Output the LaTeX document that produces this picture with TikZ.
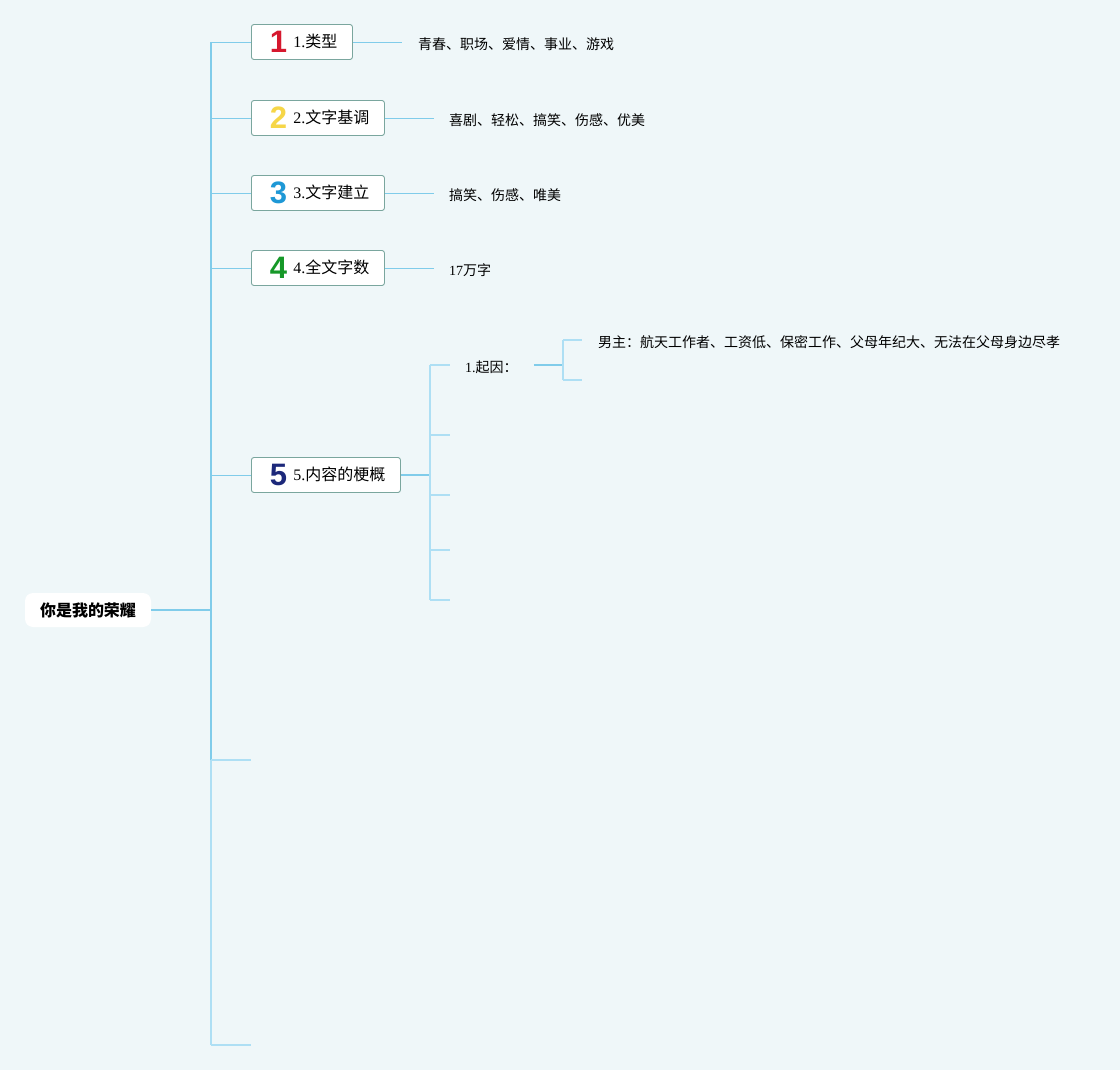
\documentclass[tikz,border=0pt]{standalone}
\usepackage{fontspec}
\setmainfont{Liberation Serif}
\newfontfamily\cjk{Noto Sans CJK SC}
\newfontfamily\numfnt{Liberation Sans}
\usetikzlibrary{positioning}
\definecolor{bgc}{RGB}{239,247,249}
\definecolor{lnk}{RGB}{128,204,234}
\definecolor{lnkl}{RGB}{174,223,244}
\definecolor{bdr}{RGB}{122,166,158}
\definecolor{nred}{RGB}{214,24,46}
\definecolor{nyel}{RGB}{246,214,72}
\definecolor{nblu}{RGB}{30,152,214}
\definecolor{ngrn}{RGB}{22,152,40}
\definecolor{nnav}{RGB}{28,40,122}
\tikzstyle{root}=[fill=white,rounded corners=8pt,minimum width=126pt,minimum height=34pt,inner sep=0pt,font=\cjk\bfseries\fontsize{16}{19}\selectfont]
\tikzstyle{topic}=[draw=bdr,fill=white,rounded corners=2.5pt,minimum height=35pt,inner xsep=0pt,inner ysep=0pt,align=left,anchor=west,line width=0.9pt]
\tikzstyle{dtl}=[anchor=west,inner xsep=0pt,font=\fontsize{14}{17}\selectfont]
\tikzstyle{lk}=[draw=lnk,line width=0.9pt]
\tikzstyle{lkl}=[draw=lnkl,line width=1.2pt]
\newcommand{\numicon}[2]{\hspace*{18pt}\makebox[18pt][c]{\raisebox{-5.5pt}{\textcolor{#1}{\numfnt\bfseries\fontsize{31}{31}\selectfont #2}}}\hspace{6pt}}

\begin{document}
\begin{tikzpicture}[x=1pt,y=-1pt]
\fill[bgc] (0,0) rectangle (1120,1070);
% root and main spine
\node[root] (root) at (88,610) {你是我的荣耀};
\coordinate (s0) at (211,610);
\coordinate (s1) at (211,42); \coordinate (s6) at (211,760); \coordinate (s7) at (211,1045);
\coordinate (e6) at (251,760); \coordinate (e7) at (251,1045);
\draw[lk,line width=1.6pt] (root.east) -- (s0);
\draw[lk,line width=1.4pt] (s1) -- (s6);
\draw[lkl,line width=1.4pt] (s6) -- (s7);
% topics
\node[topic,text width=101pt] (t1) at (251,42) {\numicon{nred}{1}\fontsize{16}{19}\selectfont 1.{\cjk 类型}};
\node[topic,text width=133pt] (t2) at (251,118) {\numicon{nyel}{2}\fontsize{16}{19}\selectfont 2.{\cjk 文字基调}};
\node[topic,text width=133pt] (t3) at (251,193) {\numicon{nblu}{3}\fontsize{16}{19}\selectfont 3.{\cjk 文字建立}};
\node[topic,text width=133pt] (t4) at (251,268) {\numicon{ngrn}{4}\fontsize{16}{19}\selectfont 4.{\cjk 全文字数}};
\node[topic,text width=149pt] (t5) at (251,475) {\numicon{nnav}{5}\fontsize{16}{19}\selectfont 5.{\cjk 内容的梗概}};
\draw[lk] (s1) -- (t1.west); \draw[lk] (211,118) -- (t2.west); \draw[lk] (211,193) -- (t3.west);
\draw[lk] (211,268) -- (t4.west); \draw[lk] (211,475) -- (t5.west);
\draw[lkl] (s6) -- (e6); \draw[lkl] (s7) -- (e7);
% details
\node[dtl] (d1) at (418,44) {\cjk 青春、职场、爱情、事业、游戏};
\node[dtl] (d2) at (449,120) {\cjk 喜剧、轻松、搞笑、伤感、优美};
\node[dtl] (d3) at (449,195) {\cjk 搞笑、伤感、唯美};
\node[dtl] (d4) at (449,270) {17{\cjk 万字}};
\draw[lk,shorten >=16pt] (t1.east) -- (t1.east -| d1.west);
\draw[lk,shorten >=15pt] (t2.east) -- (t2.east -| d2.west);
\draw[lk,shorten >=15pt] (t3.east) -- (t3.east -| d3.west);
\draw[lk,shorten >=15pt] (t4.east) -- (t4.east -| d4.west);
% outline of topic 5
\coordinate (k0) at (430,475);
\coordinate (k1) at (430,365); \coordinate (k2) at (430,435); \coordinate (k3) at (430,495);
\coordinate (k4) at (430,550); \coordinate (k5) at (430,600);
\coordinate (f2) at (450,435); \coordinate (f3) at (450,495); \coordinate (f4) at (450,550); \coordinate (f5) at (450,600);
\draw[lk,line width=1.6pt] (t5.east) -- (k0);
\draw[lkl] (k1) -- (k5);
\node[dtl] (q1) at (465,367) {1.{\cjk 起因：}};
\draw[lkl,shorten >=15pt] (k1) -- (k1 -| q1.west);
\draw[lkl] (k2) -- (f2); \draw[lkl] (k3) -- (f3); \draw[lkl] (k4) -- (f4); \draw[lkl] (k5) -- (f5);
\coordinate (m0) at (563,365); \coordinate (m1) at (563,340); \coordinate (m2) at (563,380); \coordinate (g2) at (582,380);
\draw[lk,line width=1.6pt,shorten <=16pt] (m0 -| q1.east) -- (m0);
\draw[lkl] (m1) -- (m2);
\node[dtl] (n1) at (598,342) {\cjk 男主：航天工作者、工资低、保密工作、父母年纪大、无法在父母身边尽孝};
\draw[lkl,shorten >=16pt] (m1) -- (m1 -| n1.west);
\draw[lkl] (m2) -- (g2);
\end{tikzpicture}
\end{document}
